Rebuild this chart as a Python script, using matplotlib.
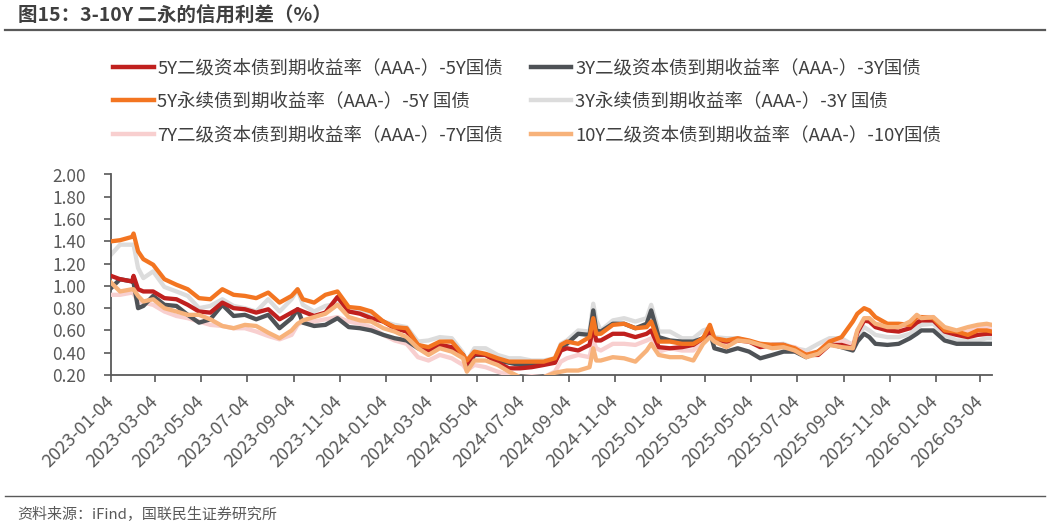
import matplotlib
matplotlib.use('Agg')
import matplotlib.pyplot as plt
import pandas as pd
from matplotlib.lines import Line2D

plt.rcParams['font.family'] = ['Noto Sans CJK SC', 'DejaVu Sans']
plt.rcParams['axes.unicode_minus'] = False

# ---------------- data ----------------
dates = [
    "2023-01-04", "2023-01-16", "2023-02-01", "2023-02-03", "2023-02-09", "2023-02-16",
    "2023-03-01", "2023-03-16", "2023-04-01", "2023-04-16", "2023-05-01", "2023-05-16",
    "2023-06-01", "2023-06-16", "2023-07-01", "2023-07-16", "2023-08-01", "2023-08-16",
    "2023-09-01", "2023-09-09", "2023-09-16", "2023-10-01", "2023-10-16",
    "2023-11-01", "2023-11-16", "2023-12-01", "2023-12-16", "2024-01-01", "2024-01-16",
    "2024-02-01", "2024-02-16", "2024-03-01", "2024-03-16", "2024-04-01", "2024-04-16",
    "2024-04-21", "2024-05-01", "2024-05-16", "2024-06-01", "2024-06-16", "2024-07-01",
    "2024-07-16", "2024-08-01", "2024-08-16",
    "2024-08-24", "2024-09-01", "2024-09-16", "2024-10-01", "2024-10-06", "2024-10-10",
    "2024-10-16", "2024-11-01", "2024-11-16", "2024-12-01", "2024-12-16", "2024-12-22",
    "2025-01-01", "2025-01-16", "2025-02-01", "2025-02-16", "2025-03-01", "2025-03-10",
    "2025-03-16", "2025-04-01", "2025-04-16", "2025-05-01", "2025-05-16", "2025-06-01",
    "2025-06-16",
    "2025-07-01", "2025-07-16", "2025-08-01", "2025-08-16", "2025-09-01", "2025-09-16",
    "2025-09-22", "2025-10-01", "2025-10-08", "2025-10-16", "2025-11-01", "2025-11-16",
    "2025-12-01", "2025-12-10", "2025-12-16", "2026-01-01", "2026-01-16", "2026-02-01",
    "2026-02-16", "2026-03-01", "2026-03-13", "2026-03-20",
]

# 5Y二级资本债 - 5Y国债
tier2_5y = [
    1.09, 1.06, 1.04, 1.09, 0.97, 0.95, 0.95, 0.89, 0.88, 0.83, 0.77, 0.76, 0.85, 0.80, 0.79,
    0.76, 0.79, 0.70, 0.76, 0.79, 0.77, 0.73, 0.76,
    0.90, 0.77, 0.75, 0.71, 0.68, 0.62, 0.59, 0.47, 0.42, 0.47, 0.45, 0.38, 0.30, 0.39, 0.38,
    0.31, 0.26, 0.26, 0.27, 0.29, 0.31,
    0.42, 0.44, 0.42, 0.47, 0.63, 0.51, 0.51, 0.57, 0.57, 0.54, 0.57, 0.60, 0.45, 0.44, 0.45,
    0.47, 0.53, 0.60, 0.51, 0.50, 0.51, 0.50, 0.45, 0.47, 0.47,
    0.42, 0.38, 0.38, 0.47, 0.47, 0.44, 0.58, 0.69, 0.68, 0.63, 0.60, 0.59, 0.62, 0.67, 0.69,
    0.69, 0.59, 0.56, 0.54, 0.56, 0.57, 0.57,
]
# 3Y二级资本债 - 3Y国债
tier2_3y = [
    0.98, 1.06, 1.04, 1.03, 0.80, 0.82, 0.91, 0.83, 0.82, 0.74, 0.67, 0.70, 0.83, 0.73, 0.74,
    0.70, 0.74, 0.62, 0.71, 0.79, 0.67, 0.64, 0.65,
    0.71, 0.63, 0.62, 0.60, 0.56, 0.53, 0.51, 0.44, 0.44, 0.47, 0.44, 0.38, 0.26, 0.38, 0.38,
    0.33, 0.31, 0.29, 0.29, 0.31, 0.32,
    0.45, 0.48, 0.57, 0.56, 0.78, 0.60, 0.59, 0.66, 0.66, 0.62, 0.66, 0.78, 0.54, 0.51, 0.50,
    0.50, 0.53, 0.59, 0.44, 0.41, 0.44, 0.41, 0.35, 0.38, 0.41,
    0.41, 0.36, 0.41, 0.48, 0.45, 0.42, 0.50, 0.57, 0.54, 0.48, 0.47, 0.48, 0.53, 0.57, 0.60,
    0.60, 0.51, 0.48, 0.48, 0.48, 0.48, 0.48,
]
# 5Y永续债 - 5Y国债
perp_5y = [
    1.40, 1.41, 1.44, 1.47, 1.31, 1.24, 1.19, 1.06, 1.01, 0.97, 0.89, 0.88, 0.97, 0.92, 0.91,
    0.89, 0.94, 0.85, 0.91, 0.97, 0.88, 0.85, 0.92,
    0.95, 0.81, 0.80, 0.77, 0.68, 0.63, 0.62, 0.47, 0.45, 0.50, 0.50, 0.38, 0.33, 0.41, 0.39,
    0.35, 0.32, 0.32, 0.32, 0.32, 0.35,
    0.47, 0.50, 0.48, 0.54, 0.71, 0.57, 0.57, 0.65, 0.66, 0.62, 0.63, 0.68, 0.50, 0.50, 0.48,
    0.48, 0.53, 0.65, 0.53, 0.51, 0.53, 0.51, 0.48, 0.47, 0.47,
    0.44, 0.38, 0.41, 0.50, 0.54, 0.68, 0.75, 0.80, 0.78, 0.72, 0.66, 0.66, 0.65, 0.72, 0.72,
    0.71, 0.60, 0.59, 0.56, 0.60, 0.60, 0.59,
]
# 3Y永续债 - 3Y国债
perp_3y = [
    1.28, 1.37, 1.37, 1.37, 1.16, 1.07, 1.13, 0.99, 0.95, 0.91, 0.80, 0.82, 0.88, 0.82, 0.80,
    0.77, 0.88, 0.77, 0.88, 0.97, 0.83, 0.77, 0.82,
    0.84, 0.77, 0.77, 0.74, 0.68, 0.65, 0.63, 0.50, 0.51, 0.54, 0.53, 0.40, 0.32, 0.44, 0.44,
    0.38, 0.35, 0.35, 0.33, 0.33, 0.35,
    0.48, 0.51, 0.60, 0.59, 0.84, 0.69, 0.60, 0.69, 0.71, 0.68, 0.71, 0.83, 0.59, 0.59, 0.53,
    0.53, 0.60, 0.62, 0.54, 0.53, 0.53, 0.50, 0.47, 0.47, 0.48,
    0.44, 0.42, 0.48, 0.53, 0.53, 0.47, 0.55, 0.63, 0.60, 0.56, 0.54, 0.54, 0.57, 0.62, 0.65,
    0.66, 0.56, 0.51, 0.51, 0.51, 0.53, 0.53,
]
# 7Y二级资本债 - 7Y国债
tier2_7y = [
    0.92, 0.92, 0.94, 0.93, 0.86, 0.85, 0.83, 0.77, 0.73, 0.71, 0.68, 0.65, 0.64, 0.62, 0.62,
    0.59, 0.55, 0.52, 0.56, 0.65, 0.68, 0.68, 0.70,
    0.72, 0.68, 0.66, 0.63, 0.56, 0.51, 0.48, 0.36, 0.33, 0.38, 0.35, 0.29, 0.24, 0.29, 0.27,
    0.23, 0.20, 0.18, 0.19, 0.18, 0.23,
    0.32, 0.35, 0.38, 0.36, 0.51, 0.44, 0.42, 0.48, 0.48, 0.47, 0.51, 0.53, 0.41, 0.44, 0.42,
    0.42, 0.51, 0.60, 0.51, 0.48, 0.53, 0.50, 0.48, 0.47, 0.46,
    0.45, 0.39, 0.41, 0.51, 0.51, 0.47, 0.60, 0.68, 0.69, 0.66, 0.65, 0.63, 0.66, 0.70, 0.72,
    0.72, 0.62, 0.59, 0.59, 0.62, 0.63, 0.63,
]
# 10Y二级资本债 - 10Y国债
tier2_10y = [
    1.03, 0.95, 0.97, 0.97, 0.91, 0.86, 0.88, 0.80, 0.77, 0.74, 0.74, 0.70, 0.64, 0.62, 0.65,
    0.64, 0.58, 0.53, 0.60, 0.66, 0.69, 0.72, 0.75,
    0.83, 0.72, 0.69, 0.68, 0.62, 0.59, 0.54, 0.44, 0.38, 0.44, 0.41, 0.35, 0.23, 0.33, 0.33,
    0.29, 0.23, 0.18, 0.17, 0.18, 0.22,
    0.23, 0.24, 0.24, 0.27, 0.44, 0.33, 0.33, 0.36, 0.35, 0.32, 0.42, 0.48, 0.38, 0.36, 0.36,
    0.33, 0.48, 0.54, 0.50, 0.45, 0.51, 0.50, 0.47, 0.44, 0.45,
    0.42, 0.36, 0.39, 0.47, 0.45, 0.44, 0.60, 0.71, 0.71, 0.66, 0.63, 0.63, 0.68, 0.74, 0.71,
    0.72, 0.63, 0.60, 0.63, 0.65, 0.66, 0.65,
]

series_labels = [
    "5Y二级资本债到期收益率（AAA-）-5Y国债",
    "3Y二级资本债到期收益率（AAA-）-3Y国债",
    "5Y永续债到期收益率（AAA-）-5Y 国债",
    "3Y永续债到期收益率（AAA-）-3Y 国债",
    "7Y二级资本债到期收益率（AAA-）-7Y国债",
    "10Y二级资本债到期收益率（AAA-）-10Y国债",
]

tick_labels = [
    "2023-01-04", "2023-03-04", "2023-05-04", "2023-07-04", "2023-09-04", "2023-11-04",
    "2024-01-04", "2024-03-04", "2024-05-04", "2024-07-04", "2024-09-04", "2024-11-04",
    "2025-01-04", "2025-03-04", "2025-05-04", "2025-07-04", "2025-09-04", "2025-11-04",
    "2026-01-04", "2026-03-04",
]
y_ticks = [0.2, 0.4, 0.6, 0.8, 1.0, 1.2, 1.4, 1.6, 1.8, 2.0]

title_text = "图15：3-10Y 二永的信用利差（%）"
source_text = "资料来源：iFind，国联民生证券研究所"

# ---------------- styling ----------------
colors = {
    "tier2_5y": "#C0201E",
    "tier2_3y": "#4E5256",
    "perp_5y": "#F37521",
    "perp_3y": "#DCDCDC",
    "tier2_7y": "#F8CFCF",
    "tier2_10y": "#F7B27A",
}
axis_gray = "#595959"
text_gray = "#404040"

W, H = 1049, 528
fig = plt.figure(figsize=(W / 100, H / 100), dpi=100)
ax = fig.add_axes([111 / W, 1 - 375 / H, (992 - 111) / W, 200.5 / H])

x = pd.to_datetime(dates)
lw = 3.1
data = {
    "tier2_5y": tier2_5y, "tier2_3y": tier2_3y, "perp_5y": perp_5y,
    "perp_3y": perp_3y, "tier2_7y": tier2_7y, "tier2_10y": tier2_10y,
}
keys = ["tier2_5y", "tier2_3y", "perp_5y", "perp_3y", "tier2_7y", "tier2_10y"]
zorders = {"perp_3y": 2, "tier2_7y": 3, "tier2_3y": 4, "tier2_5y": 5, "perp_5y": 6, "tier2_10y": 7}
handles = {}
for k, lab in zip(keys, series_labels):
    (h,) = ax.plot(x, data[k], color=colors[k], lw=lw, label=lab,
                   zorder=zorders[k], solid_joinstyle='round')
    handles[k] = h

ax.set_ylim(0.2, 2.0)
ax.set_yticks(y_ticks)
ax.set_yticklabels([f"{v:.2f}" for v in y_ticks])
ax.set_xlim(pd.Timestamp("2023-01-04"), pd.Timestamp("2026-03-20"))
ax.set_xticks(pd.to_datetime(tick_labels))
ax.set_xticklabels(tick_labels, rotation=45, ha='right', va='center', rotation_mode='anchor')

for s in ["top", "right"]:
    ax.spines[s].set_visible(False)
for s in ["left", "bottom"]:
    ax.spines[s].set_color(axis_gray)
    ax.spines[s].set_linewidth(1.3)
ax.tick_params(axis='both', direction='out', length=5, width=1.2, color=axis_gray,
               labelcolor=axis_gray)
ax.tick_params(axis='y', pad=13, labelsize=12.5)
ax.tick_params(axis='x', pad=12, labelsize=13)

# legend: column-major order -> left column red/orange/pink, right column darkgray/lightgray/lightorange
order = ["tier2_5y", "perp_5y", "tier2_7y", "tier2_3y", "perp_3y", "tier2_10y"]
leg = fig.legend([handles[k] for k in order], [handles[k].get_label() for k in order],
                 loc='upper left', bbox_to_anchor=(113 / W, 1 - 59 / H), ncol=2,
                 frameon=False, fontsize=13.3, handlelength=2.2, handletextpad=0.2,
                 columnspacing=1.5, labelspacing=0.84, borderpad=0, borderaxespad=0)
for t in leg.get_texts():
    t.set_color(text_gray)
for lh in leg.get_lines():
    lh.set_linewidth(3.2)

# title & source
fig.text(18 / W, 1 - 16 / H, title_text, fontsize=14, fontweight='bold',
         color="#3F3F3F", ha='left', va='center')
fig.add_artist(Line2D([5 / W, 1045 / W], [1 - 30 / H, 1 - 30 / H], color=axis_gray, lw=1.6))
fig.add_artist(Line2D([5 / W, 1045 / W], [1 - 496 / H, 1 - 496 / H], color=axis_gray, lw=1.0))
fig.text(17 / W, 1 - 515 / H, source_text, fontsize=10.8, color=axis_gray,
         ha='left', va='center')

fig.savefig("out.png", dpi=100)
